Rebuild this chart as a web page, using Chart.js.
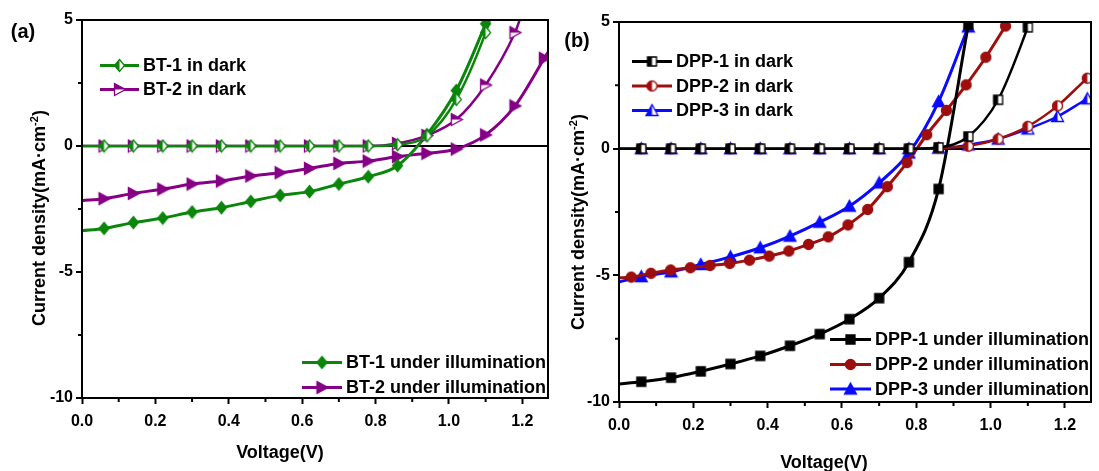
<!DOCTYPE html>
<html>
<head>
<meta charset="utf-8">
<title>J-V curves</title>
<script src="https://cdn.jsdelivr.net/npm/chart.js@4.4.1/dist/chart.umd.min.js"></script>
<style>
    body { margin: 0; background: #fff; width: 1099px; height: 471px; overflow: hidden; position: relative;
           font-family: "Liberation Sans", Arial, sans-serif; font-weight: bold; color: #000; }
    canvas { position: absolute; top: 0; }
    #chartA { left: 0; }
    #chartB { left: 552px; }
    .lbl { position: absolute; font-size: 18px; white-space: nowrap; line-height: 1; }
    .ytitle { transform: translate(-50%, -50%) rotate(-90deg); }
    .xtitle, .panel { transform: translate(-50%, -50%); }
    .panel { font-size: 20px; }
    sup { font-size: 11px; vertical-align: 7px; }
</style>
</head>
<body>
<canvas id="chartA" width="552" height="471"></canvas>
<canvas id="chartB" width="547" height="471"></canvas>

<div class="lbl panel" style="left:23px; top:31px;">(a)</div>
<div class="lbl panel" style="left:577px; top:40px;">(b)</div>
<div class="lbl ytitle" style="left:38px; top:218px;">Current density(mA·cm<sup>-2</sup>)</div>
<div class="lbl ytitle" style="left:577px; top:222px;">Current density(mA·cm<sup>-2</sup>)</div>
<div class="lbl xtitle" style="left:280px; top:452px;">Voltage(V)</div>
<div class="lbl xtitle" style="left:824px; top:462px;">Voltage(V)</div>

<script>
// --- Data: panel (a), BT polymers ---
const bt1DarkV  = [0, 0.06, 0.14, 0.22, 0.30, 0.38, 0.46, 0.54, 0.62, 0.70, 0.78, 0.86, 0.94, 1.02, 1.10, 1.12];
const bt1DarkJ  = [0, 0, 0, 0, 0, 0, 0, 0, 0, 0, 0, 0.05, 0.40, 1.85, 4.50, 5.40];
const bt2DarkV  = [0, 0.06, 0.14, 0.22, 0.30, 0.38, 0.46, 0.54, 0.62, 0.70, 0.78, 0.86, 0.94, 1.02, 1.10, 1.18, 1.20];
const bt2DarkJ  = [0, 0, 0, 0, 0, 0, 0, 0, 0, 0, 0, 0.10, 0.42, 1.05, 2.42, 4.50, 5.30];
const bt1IllumV = [0, 0.06, 0.14, 0.22, 0.30, 0.38, 0.46, 0.54, 0.62, 0.70, 0.78, 0.86, 0.94, 1.02, 1.10, 1.12];
const bt1IllumJ = [-3.36, -3.27, -3.04, -2.86, -2.62, -2.45, -2.20, -1.96, -1.81, -1.51, -1.22, -0.78, 0.45, 2.20, 4.85, 5.60];
const bt2IllumV = [0, 0.06, 0.14, 0.22, 0.30, 0.38, 0.46, 0.54, 0.62, 0.70, 0.78, 0.86, 0.94, 1.02, 1.10, 1.18, 1.26, 1.27];
const bt2IllumJ = [-2.17, -2.09, -1.88, -1.71, -1.51, -1.39, -1.19, -1.06, -0.89, -0.69, -0.60, -0.42, -0.29, -0.12, 0.44, 1.59, 3.48, 3.72];

// --- Data: panel (b), DPP polymers ---
const dpp1DarkV  = [0, 0.06, 0.14, 0.22, 0.30, 0.38, 0.46, 0.54, 0.62, 0.70, 0.78, 0.86, 0.94, 1.02, 1.10, 1.12];
const dpp1DarkJ  = [0, 0, 0, 0, 0, 0, 0, 0, 0, 0, 0, 0.05, 0.48, 1.93, 4.79, 5.60];
const dpp2DarkV  = [0, 0.06, 0.14, 0.22, 0.30, 0.38, 0.46, 0.54, 0.62, 0.70, 0.78, 0.86, 0.94, 1.02, 1.10, 1.18, 1.26, 1.27];
const dpp2DarkJ  = [0, 0, 0, 0, 0, 0, 0, 0, 0, 0, 0, 0.03, 0.10, 0.38, 0.88, 1.69, 2.78, 2.90];
const dpp3DarkV  = [0, 0.06, 0.14, 0.22, 0.30, 0.38, 0.46, 0.54, 0.62, 0.70, 0.78, 0.86, 0.94, 1.02, 1.10, 1.18, 1.26, 1.27];
const dpp3DarkJ  = [0, 0, 0, 0, 0, 0, 0, 0, 0, 0, 0, 0.02, 0.15, 0.38, 0.78, 1.27, 1.97, 2.05];
const dpp1IllumV = [0, 0.06, 0.14, 0.22, 0.30, 0.38, 0.46, 0.54, 0.62, 0.70, 0.78, 0.86, 0.94];
const dpp1IllumJ = [-9.29, -9.20, -9.04, -8.79, -8.50, -8.18, -7.78, -7.32, -6.73, -5.90, -4.48, -1.59, 4.90];
const dpp2IllumV = [0, 0.033, 0.086, 0.139, 0.192, 0.245, 0.298, 0.351, 0.404, 0.457, 0.510, 0.563, 0.616, 0.669, 0.722, 0.775, 0.828, 0.881, 0.934, 0.987, 1.040, 1.060];
const dpp2IllumJ = [-5.10, -5.07, -4.92, -4.79, -4.70, -4.61, -4.53, -4.40, -4.24, -4.04, -3.78, -3.48, -3.01, -2.40, -1.50, -0.55, 0.55, 1.51, 2.52, 3.61, 4.84, 5.30];
const dpp3IllumV = [0, 0.06, 0.14, 0.22, 0.30, 0.38, 0.46, 0.54, 0.62, 0.70, 0.78, 0.86, 0.94];
const dpp3IllumJ = [-5.26, -5.05, -4.86, -4.57, -4.27, -3.91, -3.45, -2.90, -2.27, -1.35, -0.17, 1.86, 4.81];

// axis ticks (major every 0.2 / 5, minor in between)
const xTicks = [0, 0.1, 0.2, 0.3, 0.4, 0.5, 0.6, 0.7, 0.8, 0.9, 1.0, 1.1, 1.2];
const yTicks = [-10, -7.5, -5, -2.5, 0, 2.5, 5];

const GREEN = '#0b860b', PURPLE = '#850085', BLACK = '#000000', RED = '#9e0e0e', BLUE = '#0a0aff';
const FONT = '"Liberation Sans", Arial, sans-serif';

const isMajorX = v => Math.abs(v * 5 - Math.round(v * 5)) < 1e-6;
const isMajorY = v => v % 5 === 0;

// --- Marker images (full or half filled) ---
function makeMarker(shape, color, half) {
    const c = document.createElement('canvas');
    c.width = 15; c.height = 15;
    const g = c.getContext('2d');
    const m = 7.5;
    const path = () => {
        g.beginPath();
        if (shape === 'diamond') {
            g.moveTo(m, m - 6); g.lineTo(m + 5, m); g.lineTo(m, m + 6); g.lineTo(m - 5, m);
        } else if (shape === 'triRight') {
            g.moveTo(m - 5, m - 6); g.lineTo(m + 6, m); g.lineTo(m - 5, m + 6);
        } else if (shape === 'triUp') {
            g.moveTo(m, m - 6); g.lineTo(m + 6, m + 5); g.lineTo(m - 6, m + 5);
        } else if (shape === 'square') {
            g.rect(m - 4.5, m - 4.5, 9, 9);
        } else {
            g.arc(m, m, 5, 0, Math.PI * 2);
        }
        g.closePath();
    };
    path();
    g.fillStyle = half ? '#fff' : color;
    g.fill();
    if (half) {
        g.save();
        g.beginPath();
        if (half === 'top') g.rect(0, 0, 15, m); else g.rect(0, 0, m, 15);
        g.clip();
        path();
        g.fillStyle = color;
        g.fill();
        g.restore();
    }
    path();
    g.strokeStyle = color;
    g.lineWidth = 1.3;
    g.stroke();
    return c;
}

function pts(vs, js) {
    return vs.map((v, i) => ({ x: v, y: js[i] }));
}

function series(label, vs, js, color, marker, width) {
    return {
        label: label,
        data: pts(vs, js),
        borderColor: color,
        backgroundColor: color,
        borderWidth: width,
        pointStyle: marker,
        // no marker at the axis start, the right edge or above the top
        pointRadius: ctx => (ctx.raw.x === 0 || ctx.raw.x > 1.265 || ctx.raw.y > 5.05) ? 0 : 5,
        cubicInterpolationMode: 'monotone',
        fill: false
    };
}

// --- Plugins: closed frame, short minor ticks, hand drawn legend ---
const framePlugin = {
    id: 'frame',
    afterDatasetsDraw(chart) {
        const { ctx, chartArea: a, scales } = chart;
        ctx.save();
        ctx.strokeStyle = '#000';
        ctx.lineWidth = 2;
        ctx.strokeRect(a.left, a.top, a.right - a.left, a.bottom - a.top);
        ctx.beginPath();
        xTicks.filter(v => !isMajorX(v)).forEach(v => {
            const px = scales.x.getPixelForValue(v);
            ctx.moveTo(px, a.bottom); ctx.lineTo(px, a.bottom + 4);
        });
        yTicks.filter(v => !isMajorY(v)).forEach(v => {
            const py = scales.y.getPixelForValue(v);
            ctx.moveTo(a.left, py); ctx.lineTo(a.left - 4, py);
        });
        ctx.stroke();
        ctx.restore();
    }
};

const legendPlugin = {
    id: 'sketchLegend',
    afterDraw(chart, args, opts) {
        const ctx = chart.ctx;
        ctx.save();
        ctx.font = 'bold 18px ' + FONT;
        ctx.textBaseline = 'middle';
        ctx.fillStyle = '#000';
        (opts.items || []).forEach(it => {
            ctx.strokeStyle = it.color;
            ctx.lineWidth = 3;
            ctx.beginPath();
            ctx.moveTo(it.x1, it.y);
            ctx.lineTo(it.x2, it.y);
            ctx.stroke();
            const mx = (it.x1 + it.x2) / 2;
            ctx.drawImage(it.marker, mx - it.marker.width / 2, it.y - it.marker.height / 2);
            ctx.fillText(it.label, it.x2 + 4, it.y + 1);
        });
        ctx.restore();
    }
};

function makePanel(id, datasets, legendItems, box) {
    const tickFont = { family: FONT, size: 16, weight: 'bold' };
    return new Chart(document.getElementById(id), {
        type: 'line',
        data: { datasets: datasets },
        plugins: [framePlugin, legendPlugin],
        options: {
            responsive: false,
            animation: false,
            layout: { padding: { top: box.top, right: box.right, left: 0, bottom: 0 } },
            plugins: {
                legend: { display: false },
                tooltip: { enabled: false },
                sketchLegend: { items: legendItems }
            },
            scales: {
                x: {
                    type: 'linear',
                    min: 0, max: 1.27,
                    afterBuildTicks: s => { s.ticks = xTicks.map(v => ({ value: v })); },
                    afterFit: s => { s.height = box.xHeight; },
                    border: { display: true, color: '#000', width: 2 },
                    grid: {
                        drawOnChartArea: false, drawTicks: true, tickLength: 6, tickWidth: 2,
                        tickColor: ctx => (ctx.tick && isMajorX(ctx.tick.value)) ? '#000' : 'rgba(0,0,0,0)'
                    },
                    ticks: {
                        autoSkip: false, maxRotation: 0, padding: 8, color: '#000', font: tickFont,
                        callback: v => isMajorX(v) ? v.toFixed(1) : ''
                    }
                },
                y: {
                    type: 'linear',
                    min: -10, max: 5,
                    afterBuildTicks: s => { s.ticks = yTicks.map(v => ({ value: v })); },
                    afterFit: s => { s.width = box.yWidth; },
                    border: { display: true, color: '#000', width: 2 },
                    grid: {
                        drawTicks: true, tickLength: 6, tickWidth: 2, lineWidth: 2,
                        tickColor: ctx => (ctx.tick && isMajorY(ctx.tick.value)) ? '#000' : 'rgba(0,0,0,0)',
                        color: ctx => (ctx.tick && ctx.tick.value === 0) ? '#000' : 'rgba(0,0,0,0)'
                    },
                    ticks: {
                        autoSkip: false, padding: 3, color: '#000', font: tickFont,
                        callback: v => (isMajorY(v) ? String(v) : '')
                    }
                }
            }
        }
    });
}

document.addEventListener('DOMContentLoaded', () => {
    // panel (a)
    const mBt1Dark = makeMarker('diamond', GREEN, 'left');
    const mBt2Dark = makeMarker('triRight', PURPLE, 'top');
    const mBt1 = makeMarker('diamond', GREEN);
    const mBt2 = makeMarker('triRight', PURPLE);

    makePanel('chartA', [
        series('BT-1 in dark', bt1DarkV, bt1DarkJ, GREEN, mBt1Dark, 2.5),
        series('BT-2 in dark', bt2DarkV, bt2DarkJ, PURPLE, mBt2Dark, 2.5),
        series('BT-1 under illumination', bt1IllumV, bt1IllumJ, GREEN, mBt1, 3),
        series('BT-2 under illumination', bt2IllumV, bt2IllumJ, PURPLE, mBt2, 3)
    ], [
        { label: 'BT-1 in dark', x1: 100, x2: 139, y: 65.5, color: GREEN, marker: mBt1Dark },
        { label: 'BT-2 in dark', x1: 100, x2: 139, y: 89.5, color: PURPLE, marker: mBt2Dark },
        { label: 'BT-1 under illumination', x1: 302, x2: 342, y: 362.5, color: GREEN, marker: mBt1 },
        { label: 'BT-2 under illumination', x1: 302, x2: 342, y: 387.5, color: PURPLE, marker: mBt2 }
    ], { top: 20, right: 4, yWidth: 82, xHeight: 73 });

    // panel (b)
    const mD1Dark = makeMarker('square', BLACK, 'left');
    const mD2Dark = makeMarker('circle', RED, 'left');
    const mD3Dark = makeMarker('triUp', BLUE, 'left');
    const mD1 = makeMarker('square', BLACK);
    const mD2 = makeMarker('circle', RED);
    const mD3 = makeMarker('triUp', BLUE);

    makePanel('chartB', [
        series('DPP-1 in dark', dpp1DarkV, dpp1DarkJ, BLACK, mD1Dark, 2.5),
        series('DPP-2 in dark', dpp2DarkV, dpp2DarkJ, RED, mD2Dark, 2.5),
        series('DPP-3 in dark', dpp3DarkV, dpp3DarkJ, BLUE, mD3Dark, 2.5),
        series('DPP-1 under illumination', dpp1IllumV, dpp1IllumJ, BLACK, mD1, 3),
        series('DPP-2 under illumination', dpp2IllumV, dpp2IllumJ, RED, mD2, 3),
        series('DPP-3 under illumination', dpp3IllumV, dpp3IllumJ, BLUE, mD3, 3)
    ], [
        { label: 'DPP-1 in dark', x1: 80, x2: 120, y: 61.5, color: BLACK, marker: mD1Dark },
        { label: 'DPP-2 in dark', x1: 80, x2: 120, y: 86, color: RED, marker: mD2Dark },
        { label: 'DPP-3 in dark', x1: 80, x2: 120, y: 110.5, color: BLUE, marker: mD3Dark },
        { label: 'DPP-1 under illumination', x1: 278, x2: 319, y: 339.5, color: BLACK, marker: mD1 },
        { label: 'DPP-2 under illumination', x1: 278, x2: 319, y: 364.5, color: RED, marker: mD2 },
        { label: 'DPP-3 under illumination', x1: 278, x2: 319, y: 389, color: BLUE, marker: mD3 }
    ], { top: 22, right: 2, yWidth: 67, xHeight: 69 });
});
</script>
</body>
</html>
